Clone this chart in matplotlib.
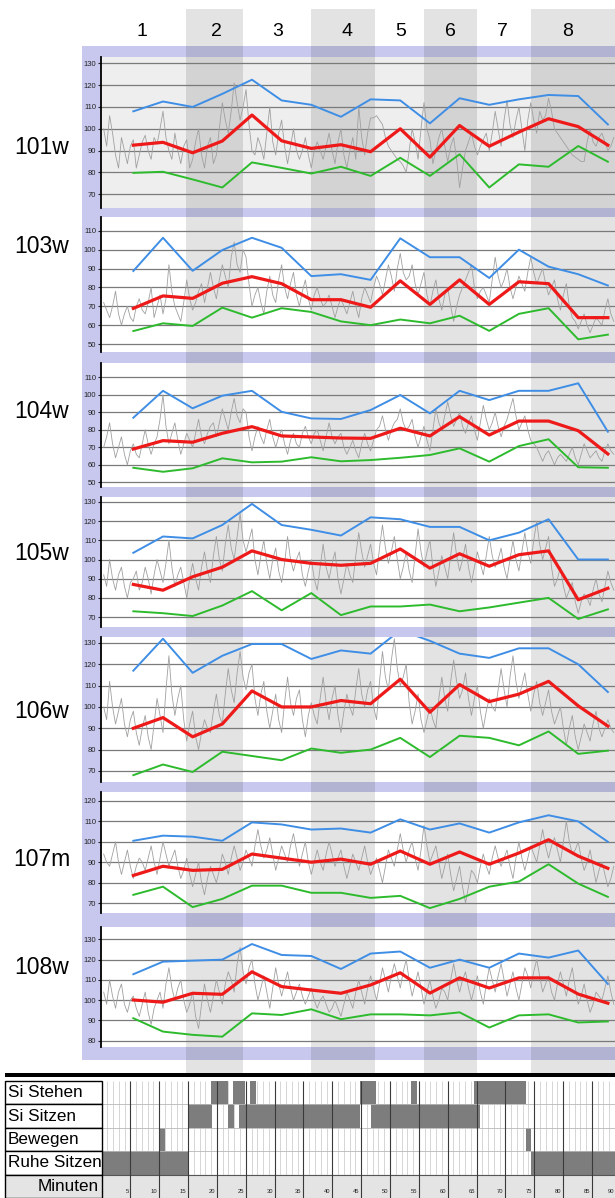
import numpy as np
import matplotlib
matplotlib.use("Agg")
import matplotlib.pyplot as plt
from matplotlib.patches import Rectangle

plt.rcParams['font.family'] = ['Liberation Sans', 'DejaVu Sans']

# ---------------- data ----------------
columns = ["1", "2", "3", "4", "5", "6", "7", "8"]
subjects = ["101w", "103w", "104w", "105w", "106w", "107m", "108w"]
window_minutes = [5, 10, 15, 20, 25, 30, 35, 40, 45, 50, 55, 60, 65, 70, 75, 80, 85]

max_101w = [108, 112.5, 110, 116, 122.5, 113, 111, 105.5, 113.5, 113, 102.5, 114, 111, 113.5, 115.5, 115, 102]
mean_101w = [92.5, 93.8, 89, 94.4, 106.3, 94.5, 91, 92.7, 89.5, 100, 87, 101.5, 92, 98.5, 104.6, 101, 92.5]
min_101w = [79.8, 80.3, 76.8, 73.1, 84.6, 82.1, 79.5, 82.6, 78.4, 86.7, 78.4, 88.3, 73.1, 83.7, 82.6, 92.1, 84.9]

max_103w = [88.7, 106.3, 88.8, 99.8, 106.3, 101, 86, 87, 84, 106, 96, 96, 85, 100, 91, 87, 81]
mean_103w = [68.9, 75.5, 74.2, 82.2, 85.7, 82, 73.5, 73.5, 69.5, 83.5, 71, 84, 71, 83, 82, 64, 64]
min_103w = [56.9, 61, 59.6, 69.3, 64, 69, 67, 62, 60, 63, 61, 65, 57, 66, 69, 52.5, 55]

max_104w = [86.9, 102.3, 92.3, 99.5, 102.3, 90.3, 86.5, 86.2, 91.3, 99.9, 89.4, 102.3, 97, 102.3, 102.3, 106.6, 78.9]
mean_104w = [69, 73.8, 72.9, 78, 81.8, 76.5, 75.9, 75.3, 75.1, 80.9, 76.5, 87.5, 77, 85, 85, 79.5, 66.2]
min_104w = [58.3, 56, 58, 63.7, 61.4, 61.8, 64.3, 62, 62.7, 64, 65.6, 69.4, 61.8, 70.7, 74.6, 58.6, 58.3]

max_105w = [103.5, 112, 111, 118, 129, 118, 115.5, 112.5, 122, 121, 117, 117, 110, 114, 121, 100, 100]
mean_105w = [87, 84, 91, 96, 104.5, 100, 98, 97, 98, 105.5, 95.5, 103, 96.5, 102.5, 104.5, 79, 85]
min_105w = [73, 72, 70.5, 76, 83.5, 73.5, 82.5, 71, 75.5, 75.5, 76.5, 73, 75, 77.5, 80, 69, 74]

max_106w = [117, 132, 116, 124, 129.5, 129.5, 122.5, 126.5, 125, 136, 131, 125, 123, 127.5, 127.5, 120, 107]
mean_106w = [90, 95, 86, 92, 107.5, 100, 100, 103, 101.5, 113, 97.5, 110.5, 102.5, 106, 112, 100.5, 91]
min_106w = [68, 73, 69.5, 79, 77, 75, 80.5, 78.5, 80, 85.5, 76.5, 86.5, 85.5, 82, 88.5, 78, 79.5]

max_107m = [100.5, 103, 102.5, 100.5, 109.5, 108.5, 106, 106.5, 104.5, 111, 106, 109, 104.5, 109.5, 113, 110, 100]
mean_107m = [83.5, 88, 86, 86.5, 94, 92, 90, 91.5, 89, 95.5, 89, 95, 89, 94.5, 101, 93, 87]
min_107m = [74, 78, 68, 72, 78.5, 78.5, 75, 75, 72.5, 73.5, 67.5, 72, 78, 80.5, 89, 79.5, 73]

max_108w = [112.8, 119, 119.5, 120, 127.7, 122.3, 121.8, 115.4, 123, 124, 116, 120, 116, 123, 121, 124.5, 108]
mean_108w = [100.1, 99, 103.4, 102.9, 114, 106.7, 105, 103.4, 107.5, 113.5, 103.5, 111, 106, 111, 111, 103, 98.5]
min_108w = [91.1, 84.5, 82.9, 82, 93.5, 92.7, 95.5, 90.6, 93, 93, 92.5, 94, 86.5, 92.5, 93, 89, 89.5]

# raw heart rate trace, one reading per half minute (minute 0 .. 86)
hr_101w = [100, 92, 106, 98, 88, 82, 96, 90, 84, 92, 95, 82, 88, 94, 97, 90, 86, 96, 93, 100,
           108, 96, 90, 86, 98, 90, 84, 92, 95, 82, 86, 94, 100, 88, 82, 92, 96, 84, 88, 100,
           112, 104, 98, 108, 121, 112, 104, 110, 118, 102, 90, 88, 96, 92, 86, 98, 110, 94, 88, 98,
           104, 92, 84, 92, 100, 90, 86, 90, 96, 88, 82, 90, 94, 90, 86, 92, 98, 90, 84, 94,
           100, 88, 82, 90, 96, 86, 110, 96, 88, 98, 105, 105, 106, 104, 102, 96, 92, 90, 88, 86,
           85, 83, 80, 90, 100, 94, 86, 100, 112, 100, 95, 84, 90, 96, 100, 92, 85, 92, 96, 86,
           73, 82, 90, 94, 98, 92, 88, 92, 95, 98, 90, 98, 108, 100, 92, 104, 113, 102, 96, 104,
           110, 100, 90, 104, 112, 104, 98, 108, 104, 106, 114, 108, 100, 98, 96, 94, 92, 90, 88, 87,
           86, 85, 85, 94, 100, 94, 92, 96, 98, 94, 90, 92, 96]
hr_103w = [72, 68, 64, 70, 78, 66, 60, 66, 70, 64, 62, 70, 74, 68, 66, 72, 80, 64, 70, 76,
           66, 74, 92, 78, 70, 66, 62, 72, 84, 74, 68, 72, 78, 82, 72, 80, 88, 80, 74, 84,
           92, 86, 80, 96, 104, 92, 88, 100, 96, 82, 70, 76, 80, 72, 66, 78, 86, 76, 72, 84,
           92, 80, 74, 82, 88, 76, 70, 78, 84, 74, 68, 76, 80, 74, 70, 72, 76, 70, 64, 70,
           74, 70, 66, 72, 78, 70, 64, 74, 80, 76, 72, 80, 86, 82, 76, 84, 92, 86, 78, 90,
           98, 88, 84, 86, 92, 82, 76, 82, 88, 76, 70, 78, 84, 74, 68, 76, 80, 70, 62, 70,
           76, 80, 84, 88, 92, 80, 74, 78, 80, 76, 72, 84, 96, 86, 80, 84, 90, 80, 74, 80,
           86, 82, 78, 88, 96, 88, 82, 86, 90, 82, 76, 80, 84, 74, 68, 76, 82, 70, 64, 62,
           58, 62, 66, 60, 56, 60, 64, 62, 60, 68, 74, 66, 62]
hr_104w = [70, 76, 84, 72, 64, 70, 76, 66, 60, 68, 72, 66, 64, 72, 80, 72, 66, 72, 76, 86,
           100, 82, 72, 78, 84, 74, 66, 72, 78, 74, 70, 78, 86, 76, 72, 78, 82, 84, 76, 84,
           92, 86, 80, 90, 98, 88, 84, 92, 90, 76, 68, 76, 82, 76, 72, 80, 86, 76, 70, 76,
           80, 72, 66, 74, 78, 72, 70, 78, 82, 76, 72, 78, 80, 74, 68, 76, 84, 76, 72, 76,
           78, 70, 66, 70, 74, 68, 64, 72, 78, 72, 68, 74, 80, 82, 88, 80, 74, 80, 84, 86,
           92, 84, 80, 82, 86, 76, 70, 76, 82, 74, 68, 80, 92, 84, 80, 88, 96, 88, 82, 86,
           90, 82, 78, 84, 88, 80, 74, 84, 94, 86, 80, 84, 90, 82, 76, 82, 86, 92, 98, 88,
           80, 84, 88, 80, 74, 72, 70, 66, 62, 66, 68, 64, 60, 64, 66, 64, 62, 66, 70, 64,
           60, 66, 72, 68, 64, 66, 68, 64, 62, 68, 72, 68, 66]
hr_105w = [92, 86, 100, 90, 84, 92, 96, 86, 80, 88, 90, 94, 84, 88, 96, 90, 82, 92, 100, 94,
           88, 98, 110, 96, 86, 92, 96, 88, 80, 90, 98, 90, 84, 96, 104, 94, 88, 102, 112, 100,
           94, 108, 118, 106, 100, 112, 124, 110, 104, 110, 116, 100, 92, 102, 110, 98, 90, 100, 106, 94,
           88, 98, 112, 100, 94, 100, 104, 92, 86, 94, 100, 90, 84, 96, 108, 96, 90, 98, 104, 90,
           82, 90, 98, 92, 88, 102, 114, 104, 96, 102, 108, 98, 92, 106, 118, 106, 98, 104, 112, 100,
           90, 96, 104, 94, 88, 102, 116, 104, 96, 104, 110, 96, 86, 94, 102, 96, 90, 102, 114, 102,
           94, 100, 108, 96, 88, 96, 104, 98, 92, 102, 112, 102, 96, 100, 106, 96, 90, 100, 110, 100,
           94, 104, 114, 104, 98, 110, 120, 108, 100, 106, 112, 96, 86, 90, 96, 86, 80, 84, 88, 78,
           72, 78, 82, 80, 76, 84, 90, 82, 78, 86, 94, 88, 84]
hr_106w = [100, 94, 112, 100, 92, 98, 104, 92, 86, 94, 98, 88, 82, 90, 96, 86, 80, 92, 104, 96,
           88, 108, 124, 106, 96, 104, 110, 94, 84, 92, 98, 86, 80, 88, 94, 90, 88, 98, 106, 96,
           92, 106, 118, 108, 102, 116, 126, 114, 108, 116, 120, 104, 96, 106, 112, 98, 90, 98, 106, 94,
           88, 102, 114, 102, 96, 104, 108, 94, 86, 96, 102, 96, 92, 104, 114, 102, 94, 104, 110, 96,
           88, 98, 106, 100, 96, 108, 118, 106, 100, 108, 112, 100, 94, 112, 126, 114, 108, 122, 132, 118,
           110, 114, 120, 102, 92, 98, 106, 94, 88, 94, 100, 94, 90, 104, 114, 104, 98, 112, 122, 112,
           104, 108, 116, 104, 96, 104, 110, 98, 90, 98, 104, 100, 98, 108, 118, 108, 100, 114, 124, 112,
           104, 110, 116, 106, 98, 106, 112, 102, 96, 102, 108, 98, 92, 96, 100, 90, 82, 90, 96, 86,
           80, 86, 92, 88, 84, 92, 98, 90, 86, 90, 94, 90, 88]
hr_107m = [94, 90, 88, 94, 100, 90, 84, 90, 96, 88, 82, 88, 92, 90, 86, 92, 98, 90, 84, 92,
           100, 94, 88, 92, 96, 88, 82, 86, 92, 84, 78, 84, 90, 80, 74, 82, 88, 84, 80, 86,
           94, 90, 84, 92, 98, 92, 86, 90, 96, 92, 88, 98, 106, 98, 92, 96, 102, 94, 86, 92,
           98, 94, 90, 98, 104, 96, 88, 94, 100, 90, 84, 90, 96, 90, 86, 94, 100, 94, 88, 92,
           96, 88, 82, 88, 94, 90, 86, 92, 98, 90, 84, 88, 92, 86, 80, 88, 96, 92, 88, 96,
           104, 96, 90, 96, 100, 92, 86, 96, 108, 98, 90, 94, 98, 90, 82, 88, 94, 84, 76, 82,
           88, 78, 70, 78, 86, 84, 80, 88, 94, 88, 84, 92, 98, 92, 88, 92, 96, 88, 82, 92,
           100, 92, 86, 92, 98, 94, 90, 98, 106, 98, 92, 98, 102, 96, 90, 100, 110, 100, 94, 96,
           100, 92, 86, 90, 96, 88, 80, 86, 90, 84, 78, 82, 88]
hr_108w = [104, 98, 110, 102, 96, 104, 108, 98, 94, 100, 102, 96, 92, 98, 104, 94, 88, 96, 100, 104,
           96, 108, 116, 106, 100, 106, 110, 100, 94, 98, 104, 92, 86, 98, 108, 100, 94, 102, 110, 104,
           98, 108, 114, 110, 104, 118, 126, 114, 108, 116, 120, 108, 100, 106, 112, 104, 96, 106, 116, 108,
           102, 108, 114, 106, 100, 104, 108, 102, 98, 102, 106, 100, 96, 100, 102, 98, 94, 96, 100, 96,
           92, 98, 104, 100, 96, 104, 110, 104, 98, 106, 112, 106, 100, 108, 116, 110, 104, 112, 118, 112,
           106, 114, 120, 110, 102, 108, 114, 106, 98, 104, 110, 102, 96, 100, 106, 104, 100, 110, 118, 110,
           104, 110, 114, 106, 100, 106, 112, 104, 98, 108, 116, 110, 104, 112, 118, 110, 102, 108, 114, 106,
           100, 108, 116, 112, 106, 114, 120, 112, 104, 108, 112, 104, 100, 108, 114, 108, 102, 110, 116, 106,
           98, 102, 108, 100, 94, 98, 104, 102, 100, 106, 112, 104, 98]

y_ticks = [[70, 80, 90, 100, 110, 120, 130],
           [50, 60, 70, 80, 90, 100, 110],
           [50, 60, 70, 80, 90, 100, 110],
           [70, 80, 90, 100, 110, 120, 130],
           [70, 80, 90, 100, 110, 120, 130],
           [70, 80, 90, 100, 110, 120],
           [80, 90, 100, 110, 120, 130]]

states = ["Si Stehen", "Si Sitzen", "Bewegen", "Ruhe Sitzen"]
si_stehen = [(19.0, 21.9), (22.8, 24.9), (25.8, 26.8), (44.8, 47.6), (53.6, 54.6), (64.5, 73.5)]
si_sitzen = [(15.0, 19.1), (22.0, 23.0), (23.9, 44.8), (46.7, 65.6)]
bewegen = [(10.1, 11.0), (73.5, 74.5)]
ruhe_sitzen = [(0.0, 15.0), (74.5, 90.0)]
minute_labels = [5, 10, 15, 20, 25, 30, 35, 40, 45, 50, 55, 60, 65, 70, 75, 80, 85, 90]

# ---------------- layout ----------------
W, H = 615, 1198


def fx(x):
    return x / W


def fy(y):
    return 1 - y / H


fig = plt.figure(figsize=(6.15, 11.98), dpi=100)

# lavender frame
fig.patches.append(Rectangle((fx(82), fy(1060)), fx(615) - fx(82), fy(46) - fy(1060),
                             transform=fig.transFigure, facecolor='#c8c8ee',
                             edgecolor='none', zorder=-5))

panel_px = [(57, 208), (217, 352), (363, 487), (497, 627), (637, 782), (792, 913), (927, 1047)]
panel_ylim = [(63.7, 132.9), (45.8, 117.3), (47.3, 118.2), (64.8, 132.6),
              (64.8, 132.8), (65.1, 124.4), (76.9, 136.1)]
panel_bg = ['#eeeeee', 'white', 'white', 'white', 'white', 'white', 'white']
label_y = [148, 246, 412, 554, 712, 860, 967]

series = [
    (hr_101w, max_101w, mean_101w, min_101w),
    (hr_103w, max_103w, mean_103w, min_103w),
    (hr_104w, max_104w, mean_104w, min_104w),
    (hr_105w, max_105w, mean_105w, min_105w),
    (hr_106w, max_106w, mean_106w, min_106w),
    (hr_107m, max_107m, mean_107m, min_107m),
    (hr_108w, max_108w, mean_108w, min_108w),
]

for i, name in enumerate(subjects):
    top, bot = panel_px[i]
    fig.patches.append(Rectangle((fx(101), fy(bot)), fx(615) - fx(101), fy(top) - fy(bot),
                                 transform=fig.transFigure, facecolor=panel_bg[i],
                                 edgecolor='none', zorder=-4))
    ax = fig.add_axes([fx(101), fy(bot), fx(615) - fx(101), fy(top) - fy(bot)])
    ax.set_facecolor('none')
    ax.set_xlim(-0.45, 86.2)
    ax.set_ylim(*panel_ylim[i])
    for s in ['top', 'right', 'bottom']:
        ax.spines[s].set_visible(False)
    ax.spines['left'].set_linewidth(1.3)
    ax.spines['left'].set_color('black')
    ax.set_xticks([])
    ax.set_yticks(y_ticks[i])
    ax.tick_params(axis='y', direction='out', length=2.5, width=0.8, labelsize=5.5,
                   pad=1, colors='#222222')
    ax.set_axisbelow(True)
    ax.yaxis.grid(True, color='#7a7a7a', linewidth=0.9)
    hr, mx, mean, mn = series[i]
    ax.plot(0.5 * np.arange(len(hr)), hr, color='#a0a0a0', lw=0.6)
    ax.plot(window_minutes, mx, color='#3f8ee6', lw=1.4)
    ax.plot(window_minutes, mn, color='#2dbb2d', lw=1.4)
    ax.plot(window_minutes, mean, color='#ee1a1a', lw=2.3)
    fig.text(fx(42), fy(label_y[i]), name, fontsize=16.5, ha='center', va='center')

# column bands
band_px = [(186, 243), (311, 375), (424, 477), (531, 615)]
for x0, x1 in band_px:
    fig.patches.append(Rectangle((fx(x0), fy(1074)), fx(x1) - fx(x0), fy(9) - fy(1074),
                                 transform=fig.transFigure, facecolor='black', alpha=0.11,
                                 edgecolor='none', zorder=-1))

header_x = [142, 216, 278, 347, 401, 450, 502, 568]
for lab, x in zip(columns, header_x):
    fig.text(fx(x), fy(32), lab, fontsize=14, ha='center', va='center')

# thick separator
fig.patches.append(Rectangle((fx(5), fy(1077)), fx(615) - fx(5), fy(1073) - fy(1077),
                             transform=fig.transFigure, facecolor='black', edgecolor='none',
                             zorder=2))

# ---------------- activity table ----------------
tab = fig.add_axes([fx(101.5), fy(1198), fx(615) - fx(101.5), fy(1081) - fy(1198)])
tab.set_xlim(0, 89.0)
tab.set_ylim(5, 0)
tab.axis('off')
tab.axhspan(4, 5, color='#e4e4e4', zorder=0)
tab.vlines(np.arange(1, 90), 0, 4, color='#d0d0d0', lw=0.6, zorder=1)
for r, intervals in enumerate([si_stehen, si_sitzen, bewegen, ruhe_sitzen]):
    tab.broken_barh([(a, b - a) for a, b in intervals], (r, 1), facecolor='#7d7d7d',
                    edgecolor='none', zorder=2)
tab.hlines([1, 2, 3], 0, 89, color='#b8b8b8', lw=0.6, zorder=3)
tab.hlines([4], 0, 89, color='#555555', lw=0.8, zorder=3)
tab.vlines(minute_labels, 0, 5, color='#3a3a3a', lw=0.8, zorder=3)
for m in minute_labels:
    tab.text(min(m - 0.3, 88.95), 4.72, str(m), fontsize=4.2, ha='right', va='center',
             color='#222222')

lab = fig.add_axes([fx(5), fy(1198), fx(101.5) - fx(5), fy(1081) - fy(1198)])
lab.set_xlim(0, 1)
lab.set_ylim(5, 0)
lab.axis('off')
for r, name in enumerate(states + ["Minuten"]):
    fc = '#e4e4e4' if r == 4 else 'white'
    lab.add_patch(Rectangle((0, r), 1, 1, facecolor=fc, edgecolor='black', lw=1.0,
                            clip_on=False))
    if r == 4:
        lab.text(0.97, r + 0.5, name, fontsize=12.3, ha='right', va='center')
    else:
        lab.text(0.03, r + 0.5, name, fontsize=12.3, ha='left', va='center')

fig.savefig("out.png", dpi=100)
